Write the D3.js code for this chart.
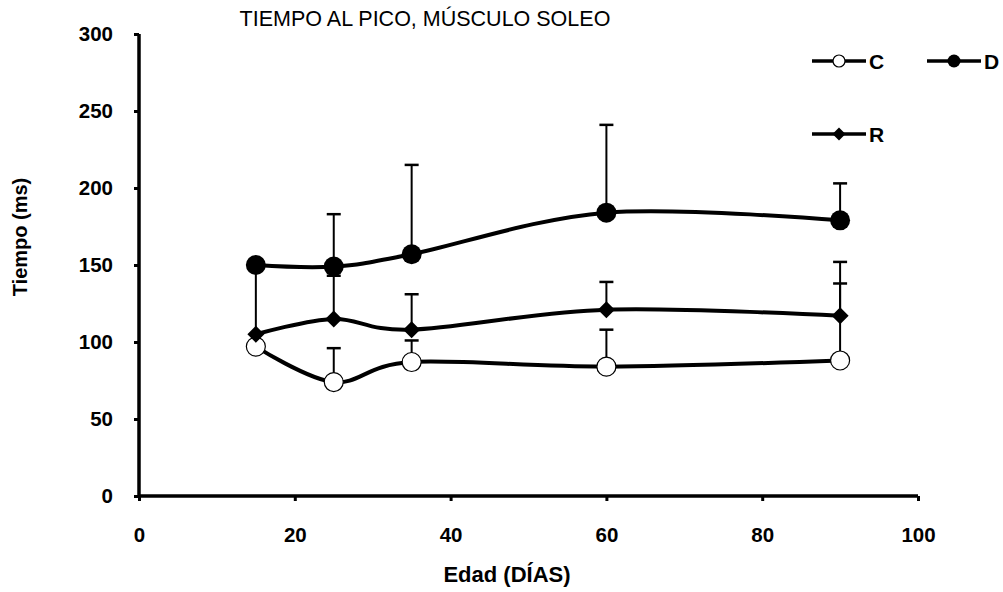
<!DOCTYPE html>
<html><head><meta charset="utf-8">
<script src="https://cdn.jsdelivr.net/npm/d3@7"></script>
<style>body{margin:0;background:#fff}svg{display:block;font-family:"Liberation Sans",Arial,sans-serif}</style>
</head><body>
<script>
const days = [15, 25, 35, 60, 90];
const seriesC = [97, 74, 87, 84, 88];
const errC = [0, 22, 14, 24, 64];
const seriesD = [150, 149, 157, 184, 179];
const errD = [0, 34, 58, 57, 24];
const seriesR = [105, 115, 108, 121, 117];
const errR = [45, 28, 23, 18, 21];
const xTicks = [0, 20, 40, 60, 80, 100];
const yTicks = [0, 50, 100, 150, 200, 250, 300];

const W = 1003, H = 592;
const svg = d3.select("body").append("svg").attr("width", W).attr("height", H);
const x = d3.scaleLinear().domain([0, 100]).range([139, 918]);
const y = d3.scaleLinear().domain([0, 300]).range([496, 34]);

// axes
const yAxis = svg.append("g").attr("transform", "translate(139,0)")
  .call(d3.axisLeft(y).tickValues(yTicks).tickSize(5).tickPadding(21));
const xAxis = svg.append("g").attr("transform", "translate(0,496)")
  .call(d3.axisBottom(x).tickValues(xTicks).tickSize(5).tickPadding(26));
[yAxis, xAxis].forEach(g => {
  g.select(".domain").attr("stroke", "#000").attr("stroke-width", 3.5);
  g.selectAll(".tick line").attr("stroke", "#000").attr("stroke-width", 3);
  g.selectAll(".tick text").attr("fill", "#000").attr("font-size", 20.5).attr("font-weight", "bold")
    .attr("font-family", "'Liberation Sans', Arial, sans-serif");
});
yAxis.select(".domain").attr("d", `M0,${y(300)}V${y(0)}`);
xAxis.select(".domain").attr("d", `M${x(0)},0H${x(100)}`);

// titles
svg.append("text").attr("x", 425).attr("y", 26).attr("text-anchor", "middle")
  .attr("font-size", 21.5).text("TIEMPO AL PICO, MÚSCULO SOLEO");
svg.append("text").attr("transform", "translate(27,237) rotate(-90)").attr("text-anchor", "middle")
  .attr("font-size", 20).attr("font-weight", "bold").text("Tiempo (ms)");
svg.append("text").attr("x", 507).attr("y", 582).attr("text-anchor", "middle")
  .attr("font-size", 22).attr("font-weight", "bold").text("Edad (DÍAS)");

const series = [
  {name: "C", vals: seriesC, err: errC, type: "open"},
  {name: "R", vals: seriesR, err: errR, type: "diamond"},
  {name: "D", vals: seriesD, err: errD, type: "filled"}
];

const line = d3.line().x(d => x(d[0])).y(d => y(d[1])).curve(d3.curveCardinal.tension(0));

// error bars
series.forEach(s => {
  days.forEach((dd, i) => {
    if (!s.err[i]) return;
    const top = s.vals[i] + s.err[i];
    svg.append("line").attr("x1", x(dd)).attr("x2", x(dd)).attr("y1", y(s.vals[i])).attr("y2", y(top))
      .attr("stroke", "#000").attr("stroke-width", 2);
    svg.append("line").attr("x1", x(dd) - 7).attr("x2", x(dd) + 7).attr("y1", y(top)).attr("y2", y(top))
      .attr("stroke", "#000").attr("stroke-width", 2.5);
  });
});

function marker(g, type, cx, cy, big) {
  if (type === "open") {
    g.append("circle").attr("cx", cx).attr("cy", cy).attr("r", big ? 9.5 : 6)
      .attr("fill", "#fff").attr("stroke", "#000").attr("stroke-width", 1.2);
  } else if (type === "filled") {
    g.append("circle").attr("cx", cx).attr("cy", cy).attr("r", big ? 10 : 6.5).attr("fill", "#000");
  } else {
    const r = big ? 8.5 : 6.5;
    g.append("path").attr("d", `M${cx},${cy - r}L${cx + r},${cy}L${cx},${cy + r}L${cx - r},${cy}Z`).attr("fill", "#000");
  }
}

series.forEach(s => {
  const pts = days.map((dd, i) => [dd, s.vals[i]]);
  svg.append("path").datum(pts).attr("d", line).attr("fill", "none")
    .attr("stroke", "#000").attr("stroke-width", 4);
  pts.forEach(p => marker(svg, s.type, x(p[0]), y(p[1]), true));
});

// legend
const legend = [
  {name: "C", type: "open", lx: 812, ly: 61},
  {name: "D", type: "filled", lx: 927, ly: 61},
  {name: "R", type: "diamond", lx: 812, ly: 134}
];
legend.forEach(l => {
  svg.append("line").attr("x1", l.lx).attr("x2", l.lx + 54).attr("y1", l.ly).attr("y2", l.ly)
    .attr("stroke", "#000").attr("stroke-width", 3.5);
  marker(svg, l.type, l.lx + 27, l.ly, false);
  svg.append("text").attr("x", l.lx + 57).attr("y", l.ly + 7.5).attr("font-size", 21)
    .attr("font-weight", "bold").text(l.name);
});
</script>
</body></html>
